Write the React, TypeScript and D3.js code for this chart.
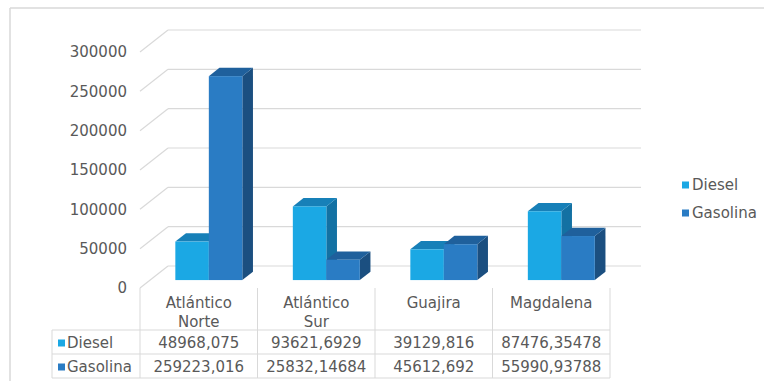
import React from "react";
import * as d3 from "d3";

const categories: string[][] = [["Atlántico", "Norte"], ["Atlántico", "Sur"], ["Guajira"], ["Magdalena"]];
const seriesNames = ["Diesel", "Gasolina"];
const dieselValues = [48968.075, 93621.6929, 39129.816, 87476.35478];
const gasolinaValues = [259223.016, 25832.14684, 45612.692, 55990.93788];
const dieselLabels = ["48968,075", "93621,6929", "39129,816", "87476,35478"];
const gasolinaLabels = ["259223,016", "25832,14684", "45612,692", "55990,93788"];
const yTicks = [0, 50000, 100000, 150000, 200000, 250000, 300000];

const W = 764, H = 386;
const FONT = "'DejaVu Sans', Verdana, sans-serif";
const TXT = "#595959";
const GRID = "#d9d9d9";

const faces = [
  { front: "#1ba8e4", top: "#1780b8", side: "#1371a3" },
  { front: "#2a7cc4", top: "#1f609c", side: "#1b4f80" },
];

export default function App() {
  const x0 = 140, x1 = 610, y0 = 288;
  const DX = 28, DY = -22;
  const h = d3.scaleLinear().domain([0, 300000]).range([0, 236]);
  const catKeys = categories.map((c) => c.join(" "));
  const xCat = d3.scaleBand<string>().domain(catKeys).range([x0, x1]);
  const bw = xCat.bandwidth();
  const xSer = d3.scaleBand<string>().domain(seriesNames).range([0, bw]).paddingInner(0).paddingOuter(0.754);
  const f1 = 0.36, f2 = 0.74;
  const seriesVals = [dieselValues, gasolinaValues];
  const seriesLbls = [dieselLabels, gasolinaLabels];

  const bars: JSX.Element[] = [];
  catKeys.forEach((ck, ci) => {
    seriesNames.forEach((s, si) => {
      const v = seriesVals[si][ci];
      const xl = (xCat(ck) as number) + (xSer(s) as number) + DX * f1;
      const xr = xl + xSer.bandwidth();
      const yb = y0 + DY * f1;
      const yt = yb - h(v);
      const ddx = DX * (f2 - f1), ddy = DY * (f2 - f1);
      const c = faces[si];
      bars.push(
        <g key={ck + s}>
          <polygon points={`${xr},${yb} ${xr + ddx},${yb + ddy} ${xr + ddx},${yt + ddy} ${xr},${yt}`} fill={c.side} />
          <polygon points={`${xl},${yt} ${xl + ddx},${yt + ddy} ${xr + ddx},${yt + ddy} ${xr},${yt}`} fill={c.top} />
          <rect x={xl} y={yt} width={xr - xl} height={yb - yt} fill={c.front} />
        </g>
      );
    });
  });

  const rowY = [330, 354, 378];
  const colX = [...catKeys.map((k) => xCat(k) as number), x1];

  return (
    <svg width={W} height={H} style={{ position: "absolute", left: 0, top: 0, background: "#fff" }} fontFamily={FONT}>
      <line x1={10} y1={8} x2={W} y2={8} stroke={GRID} strokeWidth={1.5} />
      <line x1={10} y1={8} x2={10} y2={381} stroke={GRID} strokeWidth={1.5} />
      {yTicks.map((t) => (
        <g key={t}>
          <line x1={x0} y1={y0 - h(t)} x2={x0 + DX} y2={y0 + DY - h(t)} stroke={GRID} strokeWidth={1.2} />
          <line x1={x0 + DX} y1={y0 + DY - h(t)} x2={x1 + DX + 3} y2={y0 + DY - h(t)} stroke={GRID} strokeWidth={1.2} />
          <text x={127} y={y0 - h(t)} dy="0.35em" textAnchor="end" fontSize={15} fill={TXT}>{t}</text>
        </g>
      ))}
      {bars}
      {/* table */}
      {colX.map((x, i) => (
        <line key={"c" + i} x1={x} y1={y0} x2={x} y2={378} stroke={GRID} strokeWidth={1} />
      ))}
      <line x1={52} y1={330} x2={52} y2={378} stroke={GRID} strokeWidth={1} />
      {rowY.map((y, i) => (
        <line key={"r" + i} x1={52} y1={y} x2={x1} y2={y} stroke={GRID} strokeWidth={1} />
      ))}
      {categories.map((lines, ci) => (
        <text key={"cat" + ci} x={(xCat(catKeys[ci]) as number) + bw / 2} y={303} textAnchor="middle" fontSize={15} fill={TXT}>
          {lines.map((l, li) => (
            <tspan key={li} x={(xCat(catKeys[ci]) as number) + bw / 2} y={303 + li * 19} dy="0.35em">{l}</tspan>
          ))}
        </text>
      ))}
      {seriesNames.map((s, si) => {
        const yc = (rowY[si] + rowY[si + 1]) / 2 + 1;
        return (
          <g key={"row" + s}>
            <rect x={58} y={yc - 3.5} width={7} height={7} fill={faces[si].front} />
            <text x={67} y={yc} dy="0.35em" fontSize={15} fill={TXT}>{s}</text>
            {seriesLbls[si].map((lb, ci) => (
              <text key={ci} x={(xCat(catKeys[ci]) as number) + bw / 2} y={yc} dy="0.35em" textAnchor="middle" fontSize={15} fill={TXT}>{lb}</text>
            ))}
          </g>
        );
      })}
      {/* legend */}
      {seriesNames.map((s, si) => (
        <g key={"lg" + s}>
          <rect x={682} y={185 + si * 28 - 3.5} width={7} height={7} fill={faces[si].front} />
          <text x={692} y={185 + si * 28} dy="0.35em" fontSize={15} fill={TXT}>{s}</text>
        </g>
      ))}
    </svg>
  );
}
